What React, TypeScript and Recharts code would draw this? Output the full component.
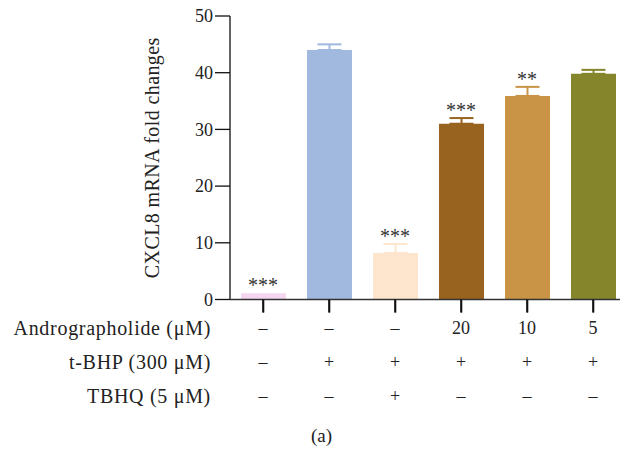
import { ComposedChart, Bar, Cell, ErrorBar, Line, LabelList, XAxis, YAxis, Label, Rectangle } from "recharts";

// groups in the order they appear on the x axis
const groups = ["ctrl", "tbhp", "tbhq", "andro20", "andro10", "andro5"];
const foldChange = [1.1, 44.0, 8.2, 31.0, 35.9, 39.8];
const errorUp = [0, 1.0, 1.6, 1.0, 1.6, 0.7];
const significance = ["***", "", "***", "***", "**", ""];
const barColors = ["#f4d6f0", "#a1b9df", "#fee6ce", "#98631f", "#c99446", "#85852c"];

// treatment table under the axis
const andrographolide = ["–", "–", "–", "20", "10", "5"];
const tBHP = ["–", "+", "+", "+", "+", "+"];
const tbhq = ["–", "–", "+", "–", "–", "–"];

const yTicks = [0, 10, 20, 30, 40, 50];

const data = groups.map((group, i) => {
  const row: Record<string, unknown> = {
    group,
    value: foldChange[i],
    top: foldChange[i] + errorUp[i],
    sig: significance[i],
  };
  // one error key per bar, so each error bar can take its bar's colour
  groups.forEach((_, j) => {
    row[`err${j}`] = i === j && errorUp[i] > 0 ? [0, errorUp[i]] : null;
  });
  return row;
});

const font = "'Liberation Serif', 'Times New Roman', serif";
const ink = "#222";
const X_TICK = 13;

// axis ids sort alphabetically, which is the order recharts stacks them in.
// the first row also carries the axis line.
const rowAxes = [
  { id: "a1", label: "Andrographolide (μM)", values: andrographolide, first: true },
  { id: "a2", label: "t-BHP (300 μM)", values: tBHP, first: false },
  { id: "a3", label: "TBHQ (5 μM)", values: tbhq, first: false },
];

// bar plus the category tick that hangs below the axis at its centre
const BarWithTick = (props: any) => {
  const { x, y, width, height } = props;
  const cx = x + width / 2;
  const base = y + height;
  return (
    <g>
      <Rectangle {...props} />
      <line x1={cx} x2={cx} y1={base} y2={base + X_TICK} stroke="#111" strokeWidth={1.6} />
    </g>
  );
};

export default function App() {
  return (
    <div
      style={{
        position: "absolute",
        left: 0,
        top: 0,
        width: 620,
        height: 449,
        overflow: "hidden",
        background: "#fff",
        fontFamily: font,
      }}
    >
      <ComposedChart
        width={626}
        height={420}
        data={data}
        margin={{ top: 16, right: 0, bottom: 7.5, left: 0 }}
      >
        <YAxis
          width={230}
          domain={[0, 50]}
          ticks={yTicks}
          tickSize={15}
          tickMargin={2}
          axisLine={{ stroke: "#111", strokeWidth: 1.3 }}
          tickLine={{ stroke: "#111", strokeWidth: 1.3 }}
          tick={{ fill: ink, fontSize: 18, fontFamily: font }}
        >
          <Label
            value="CXCL8 mRNA fold changes"
            angle={-90}
            position="insideLeft"
            offset={152}
            style={{ textAnchor: "middle", letterSpacing: 0.4 }}
            fontSize={20}
            fill={ink}
            fontFamily={font}
          />
        </YAxis>

        {rowAxes.map((r) => (
          <XAxis
            key={r.id}
            xAxisId={r.id}
            dataKey="group"
            height={r.first ? 45 : 34}
            interval={0}
            stroke="#111"
            axisLine={r.first ? { stroke: "#333", strokeWidth: 1.6 } : false}
            tickLine={r.first ? { stroke: "#111", strokeWidth: 1.6 } : false}
            tickSize={r.first ? X_TICK : 0}
            tickMargin={r.first ? 8.5 : 10.5}
            tickFormatter={(_v: string, i: number) => r.values[i]}
            tick={{ fill: ink, fontSize: 18, fontFamily: font }}
            label={{
              value: r.label,
              position: "left",
              offset: 19,
              dy: r.first ? 6 : 0,
              fontSize: 20,
              fill: ink,
              fontFamily: font,
              style: { letterSpacing: 0.7 },
            }}
          />
        ))}

        <Bar
          xAxisId="a3"
          dataKey="value"
          barSize={45}
          shape={BarWithTick}
          isAnimationActive={false}
        >
          {data.map((_, i) => (
            <Cell key={i} fill={barColors[i]} />
          ))}
          {barColors.map((c, j) => (
            <ErrorBar
              key={j}
              dataKey={`err${j}`}
              direction="y"
              width={12}
              stroke={c}
              strokeWidth={2}
            />
          ))}
        </Bar>

        {/* invisible line at the top of each error bar, carrying the asterisks */}
        <Line
          xAxisId="a3"
          dataKey="top"
          stroke="none"
          dot={false}
          activeDot={false}
          legendType="none"
          isAnimationActive={false}
        >
          <LabelList
            dataKey="sig"
            position="top"
            offset={1}
            fill="#333"
            fontSize={20}
            fontFamily={font}
          />
        </Line>
      </ComposedChart>
      <div
        style={{
          position: "absolute",
          left: 321.5,
          top: 425,
          transform: "translateX(-50%)",
          fontSize: 19,
          color: ink,
        }}
      >
        (a)
      </div>
    </div>
  );
}
